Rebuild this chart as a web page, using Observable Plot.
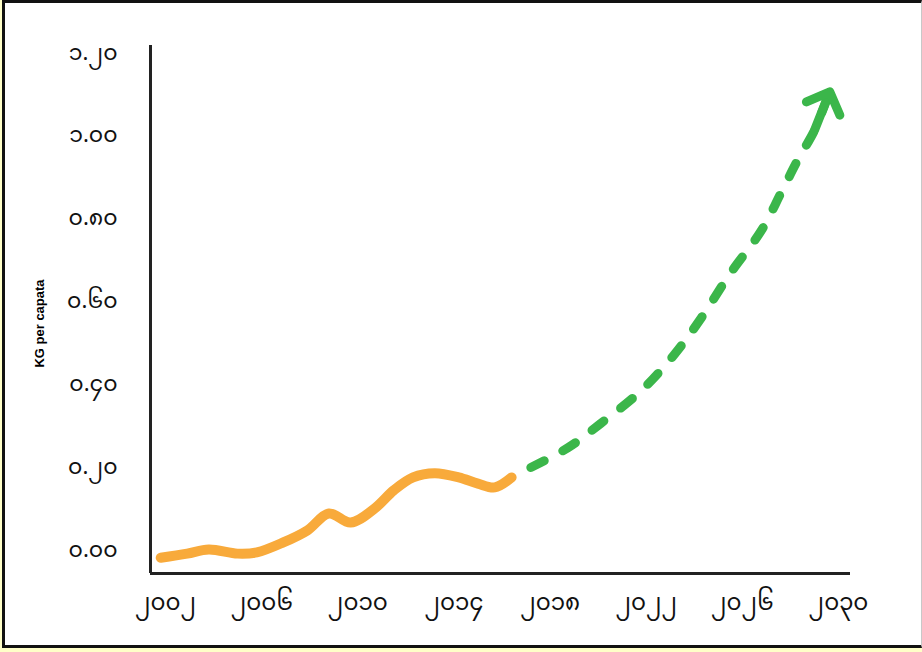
<!DOCTYPE html>
<html>
<head>
<meta charset="utf-8">
<script src="https://cdn.jsdelivr.net/npm/d3@7"></script>
<script src="https://cdn.jsdelivr.net/npm/@observablehq/plot@0.6"></script>
<style>
  html, body { margin: 0; padding: 0; }
  body { width: 922px; height: 652px; overflow: hidden; background: #ffffc8; }
  #wrap { position: relative; width: 922px; height: 652px; }
  #frame { position: absolute; left: 2px; top: 0; width: 916px; height: 642px;
           background: #fff; border-top: 3px solid #111; border-left: 3px solid #111;
           border-bottom: 3px solid #111; border-right: 1px solid #c8c8c8; }
  #chart { position: absolute; left: 0; top: 0; }
</style>
</head>
<body>
<div id="wrap"><div id="frame"></div><div id="chart"></div></div>
<script>
// Historical series (orange)
const histYears  = [2001.8, 2002.9, 2003.8, 2005.0, 2005.8, 2006.9, 2007.9, 2008.8, 2009.7, 2010.7, 2011.5, 2012.3, 2013.2, 2014.2, 2015.0, 2015.7, 2016.4];
const histValues = [-0.02, -0.01, 0.0, -0.01, -0.007, 0.017, 0.046, 0.087, 0.065, 0.099, 0.143, 0.174, 0.184, 0.174, 0.159, 0.150, 0.174];
// Projected series (green dashed)
const projYears  = [2017.2, 2018.75, 2020.1, 2021.8, 2023.2, 2024.3, 2025.5, 2026.8, 2027.6, 2028.3, 2029.0, 2029.5];
const projValues = [0.198, 0.246, 0.304, 0.384, 0.473, 0.560, 0.667, 0.771, 0.860, 0.940, 1.012, 1.085];
// Ticks
const xTicks = [2002, 2006, 2010, 2014, 2018, 2022, 2026, 2030];
const xTickLabels = ["၂၀၀၂", "၂၀၀၆", "၂၀၁၀", "၂၀၁၄", "၂၀၁၈", "၂၀၂၂", "၂၀၂၆", "၂၀၃၀"];
const yTicks = [0, 0.2, 0.4, 0.6, 0.8, 1.0, 1.2];
const yTickLabels = ["၀.၀၀", "၀.၂၀", "၀.၄၀", "၀.၆၀", "၀.၈၀", "၁.၀၀", "၁.၂၀"];
const yLabel = "KG per capata";

const hist = histYears.map((x, i) => ({x, y: histValues[i]}));
const proj = projYears.map((x, i) => ({x, y: projValues[i]}));
const head = proj.slice(-2);

const xDomain = [2001.375, 2030.5];
const yDomain = [-0.058, 1.217];
const tickFont = "'Noto Sans Myanmar', 'Myanmar Text', Padauk, 'DejaVu Sans', sans-serif";

const plot = Plot.plot({
  width: 922,
  height: 652,
  marginLeft: 150,
  marginRight: 72,
  marginTop: 45,
  marginBottom: 79,
  style: {background: "transparent", overflow: "visible"},
  x: {domain: xDomain},
  y: {domain: yDomain},
  marks: [
    Plot.axisX({ticks: xTicks, tickSize: 0, tickPadding: 20, fontSize: 23,
      fill: "#111", fontFamily: tickFont,
      tickFormat: d => xTickLabels[xTicks.indexOf(d)], label: null}),
    Plot.axisY({ticks: yTicks, tickSize: 0, tickPadding: 33, fontSize: 22,
      fill: "#111", fontFamily: tickFont,
      tickFormat: d => yTickLabels[yTicks.indexOf(d)], label: null}),
    Plot.ruleX([xDomain[0]], {stroke: "#222", strokeWidth: 3}),
    Plot.ruleY([yDomain[0]], {stroke: "#222", strokeWidth: 3}),
    Plot.line(hist, {x: "x", y: "y", curve: "catmull-rom", stroke: "#f8aa3b",
      strokeWidth: 10, strokeLinecap: "round", strokeLinejoin: "round"}),
    Plot.line(proj, {x: "x", y: "y", curve: "catmull-rom", stroke: "#3bb64a",
      strokeWidth: 9, strokeLinecap: "round", strokeDasharray: "15,21"}),
    Plot.line(head, {x: "x", y: "y", stroke: "#3bb64a", strokeWidth: 9,
      strokeLinecap: "round", markerEnd: "arrow"}),
    Plot.text([yLabel], {frameAnchor: "left", textAnchor: "middle", dx: -111, dy: 14, rotate: -90,
      fontSize: 13, fontWeight: "bold", fill: "#000",
      fontFamily: "'Liberation Sans', Arial, sans-serif"})
  ]
});
document.getElementById("chart").appendChild(plot);
</script>
</body>
</html>
